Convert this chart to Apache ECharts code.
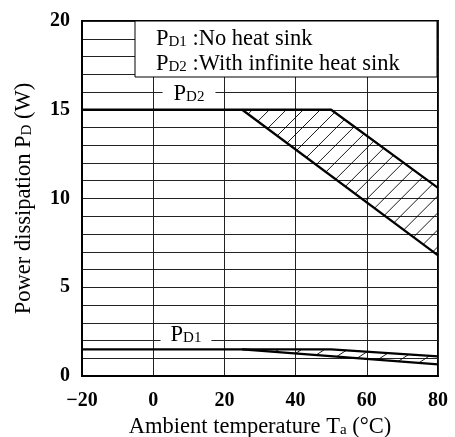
<!DOCTYPE html>
<html><head><meta charset="utf-8">
<script src="https://cdn.jsdelivr.net/npm/echarts@6/dist/echarts.min.js"></script>
<style>html,body{margin:0;padding:0;background:#fff}#c{width:455px;height:437px}</style>
</head><body><div id="c"></div>
<script>
// ---- data ----
const xTicks = [-20, 0, 20, 40, 60, 80];
const yTicks = [0, 5, 10, 15, 20];
const pd2Upper = [[-20, 15], [50, 15], [80, 10.6]];
const pd2Lower = [[25, 15], [80, 6.8]];
const pd1Upper = [[-20, 1.5], [50, 1.5], [80, 1.1]];
const pd1Lower = [[25, 1.5], [80, 0.65]];
const legendText1 = ['P', 'D1', ' :No heat sink'];
const legendText2 = ['P', 'D2', ' :With infinite heat sink'];
const curveLabel1 = ['P', 'D1'];
const curveLabel2 = ['P', 'D2'];
const xTitle = ['Ambient temperature T', 'a', ' (°C)'];
const yTitle = ['Power dissipation P', 'D', ' (W)'];

// ---- styles ----
const FONT = 'Liberation Serif';
const hatchStyle = [{ angle: 45, spacing: 12 }, { angle: 33, spacing: 12.5 }];

function bandPolygon(upper, lower) {
  const x0 = lower[0][0];
  return [lower[0]].concat(upper.filter(p => p[0] > x0)).concat(lower.slice(1).reverse());
}
const hatchRegions = [bandPolygon(pd2Upper, pd2Lower), bandPolygon(pd1Upper, pd1Lower)];

function renderHatch(params, api) {
  const idx = api.value(0);
  const st = hatchStyle[idx];
  const poly = hatchRegions[idx].map(p => api.coord(p));
  const th = st.angle * Math.PI / 180;
  const d = [Math.cos(th), -Math.sin(th)];
  const n = [Math.sin(th), Math.cos(th)];
  const s = poly.map(p => p[0] * n[0] + p[1] * n[1]);
  const smin = Math.min.apply(null, s), smax = Math.max.apply(null, s);
  const children = [];
  for (let c = smin + st.spacing * 0.6; c < smax; c += st.spacing) {
    const pts = [];
    for (let i = 0; i < poly.length; i++) {
      const j = (i + 1) % poly.length;
      const a = poly[i], b = poly[j];
      const sa = s[i] - c, sb = s[j] - c;
      if ((sa <= 0 && sb > 0) || (sa > 0 && sb <= 0)) {
        const t = sa / (sa - sb);
        pts.push([a[0] + t * (b[0] - a[0]), a[1] + t * (b[1] - a[1])]);
      }
    }
    if (pts.length >= 2) {
      pts.sort((p, q) => (p[0] * d[0] + p[1] * d[1]) - (q[0] * d[0] + q[1] * d[1]));
      const p1 = pts[0], p2 = pts[pts.length - 1];
      children.push({ type: 'line', shape: { x1: p1[0], y1: p1[1], x2: p2[0], y2: p2[1] },
        style: { stroke: '#000', lineWidth: 0.9 } });
    }
  }
  return { type: 'group', children: children };
}

function makeRich(size, lh) {
  return {
    m: { fontFamily: FONT, fontSize: size, color: '#000', verticalAlign: 'bottom', lineHeight: lh },
    s: { fontFamily: FONT, fontSize: Math.round(size * 0.68), color: '#000', verticalAlign: 'bottom', lineHeight: lh, padding: [0, 0, 1, 0] }
  };
}
const richBig = makeRich(22.5, 23);
const richLabel = makeRich(22.5, 15);
function rt(parts) { return '{m|' + parts[0] + '}{s|' + parts[1] + '}' + (parts[2] !== undefined ? '{m|' + parts[2] + '}' : ''); }

const lineStyleBold = { color: '#000', width: 2.3 };
const chart = echarts.init(document.getElementById('c'), null, { renderer: 'canvas' });
chart.setOption({
  animation: false,
  backgroundColor: '#fff',
  grid: { left: 82, right: 17, top: 21, bottom: 61, show: true, borderColor: '#000', borderWidth: 2,
    containLabel: false, outerBoundsMode: 'none' },
  xAxis: {
    type: 'value', min: xTicks[0], max: xTicks[xTicks.length - 1], interval: 20,
    axisLine: { show: true, onZero: false, lineStyle: { color: '#000', width: 2 } },
    axisTick: { show: false },
    splitLine: { show: true, lineStyle: { color: '#222', width: 1 } },
    axisLabel: { fontFamily: FONT, fontWeight: 'bold', fontSize: 20, color: '#000', margin: 15,
      formatter: v => (xTicks.indexOf(v) >= 0 ? (v < 0 ? '\u2212' + Math.abs(v) : String(v)) : '') },
    name: rt(xTitle), nameLocation: 'middle', nameGap: 39,
    nameTextStyle: { rich: richBig }
  },
  yAxis: {
    type: 'value', min: yTicks[0], max: yTicks[yTicks.length - 1], interval: 5,
    axisLine: { show: true, onZero: false, lineStyle: { color: '#000', width: 2 } },
    axisTick: { show: false },
    minorTick: { show: false, splitNumber: 5 },
    splitLine: { show: true, lineStyle: { color: '#222', width: 1 } },
    minorSplitLine: { show: true, lineStyle: { color: '#222', width: 1 } },
    axisLabel: { fontFamily: FONT, fontWeight: 'bold', fontSize: 20, color: '#000', margin: 12,
      formatter: v => (yTicks.indexOf(v) >= 0 ? String(v) : '') },
    name: rt(yTitle), nameLocation: 'middle', nameGap: 46, nameRotate: 90,
    nameTextStyle: { rich: richBig }
  },
  series: [
    { type: 'custom', coordinateSystem: 'cartesian2d', renderItem: renderHatch,
      data: [[0, 0], [1, 0]], z: 3, silent: true },
    { type: 'line', data: pd2Upper, symbol: 'none', lineStyle: lineStyleBold, z: 5, silent: true },
    { type: 'line', data: pd2Lower, symbol: 'none', lineStyle: lineStyleBold, z: 5, silent: true },
    { type: 'line', data: pd1Upper, symbol: 'none', lineStyle: lineStyleBold, z: 5, silent: true },
    { type: 'line', data: pd1Lower, symbol: 'none', lineStyle: lineStyleBold, z: 5, silent: true }
  ],
  graphic: [
    { type: 'rect', z: 100, shape: { x: 135, y: 21, width: 302, height: 56 },
      style: { fill: '#fff', stroke: '#000', lineWidth: 1 } },
    { type: 'text', z: 101, x: 156, y: 28,
      style: { text: rt(legendText1), rich: richBig } },
    { type: 'text', z: 101, x: 156, y: 53,
      style: { text: rt(legendText2), rich: richBig } },
    { type: 'text', z: 101, x: 189, y: 98,
      style: { text: rt(curveLabel2), rich: richLabel, align: 'center', verticalAlign: 'middle',
        backgroundColor: '#fff', padding: [0, 11] } },
    { type: 'text', z: 101, x: 186, y: 339,
      style: { text: rt(curveLabel1), rich: richLabel, align: 'center', verticalAlign: 'middle',
        backgroundColor: '#fff', padding: [0, 10] } }
  ]
});
</script>
</body></html>
